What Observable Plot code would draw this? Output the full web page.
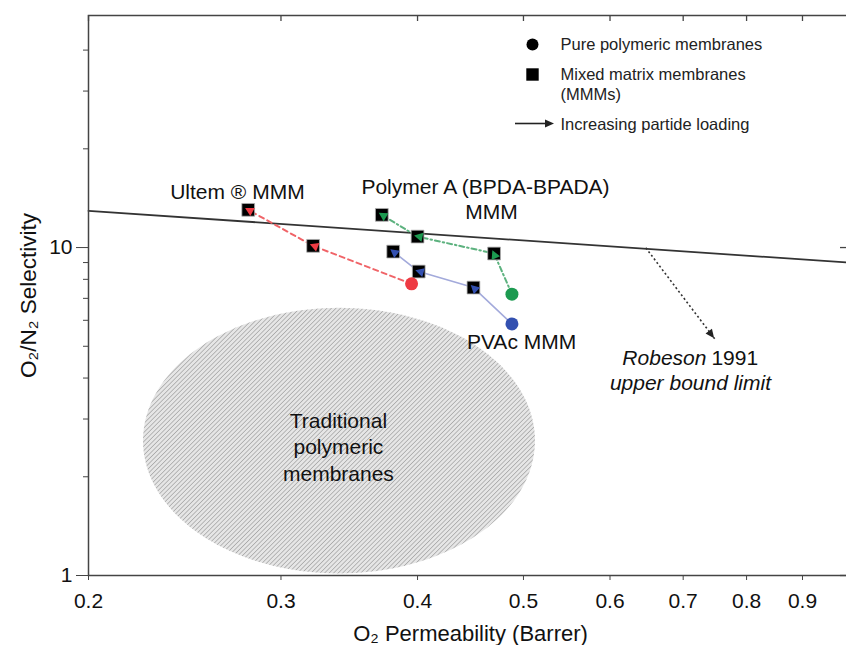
<!DOCTYPE html>
<html><head><meta charset="utf-8">
<script src="https://cdn.jsdelivr.net/npm/d3@7"></script>
<script src="https://cdn.jsdelivr.net/npm/@observablehq/plot@0.6"></script>
<style>
body{margin:0;background:#fff;}
#chart{position:relative;width:846px;height:645px;overflow:hidden;background:#fff;}
</style></head><body><div id="chart"></div>
<script>
// ---------- data ----------
const ultemPerm = [0.395, 0.321, 0.280];
const ultemSel  = [7.75, 10.12, 13.03];
const ultemType = ["pure", "mmm", "mmm"];

const polyAPerm = [0.488, 0.470, 0.400, 0.371];
const polyASel  = [7.21, 9.59, 10.8, 12.58];
const polyAType = ["pure", "mmm", "mmm", "mmm"];

const pvacPerm = [0.488, 0.450, 0.401, 0.380];
const pvacSel  = [5.85, 7.55, 8.45, 9.72];
const pvacType = ["pure", "mmm", "mmm", "mmm"];

const robesonPerm = [0.2, 1.0];
const robesonSel  = [12.94, 8.98];

// dotted pointer from the bound line to its caption
const pointerPerm = [0.647, 0.748];
const pointerSel  = [9.98, 5.27];

// "Traditional polymeric membranes" region: centre and half-extent (decades)
const tradCenterPerm = 0.339, tradCenterSel = 2.578;
const tradHalfPermDec = 0.1793, tradHalfSelDec = 0.405;

const xTicks = [0.2, 0.3, 0.4, 0.5, 0.6, 0.7, 0.8, 0.9, 1];
const xTickLabels = ["0.2", "0.3", "0.4", "0.5", "0.6", "0.7", "0.8", "0.9", "1"];
const yMajorTicks = [1, 10];
const yMajorLabels = ["1", "10"];
const yMinorTicks = [2, 3, 4, 5, 6, 7, 8, 9, 20, 30, 40];

// ---------- tables ----------
const mk = (name, P, S, T) => P.map((p, i) => ({series: name, p, s: S[i], type: T[i], i}));
const ultem = mk("Ultem", ultemPerm, ultemSel, ultemType);
const polyA = mk("PolymerA", polyAPerm, polyASel, polyAType);
const pvac  = mk("PVAc", pvacPerm, pvacSel, pvacType);
const all = [...ultem, ...polyA, ...pvac];
const robeson = robesonPerm.map((p, i) => ({p, s: robesonSel[i]}));
const pointer = [{p1: pointerPerm[0], s1: pointerSel[0], p2: pointerPerm[1], s2: pointerSel[1]}];
const ellipse = d3.range(0, 160).map(k => {
  const t = (k / 160) * 2 * Math.PI;
  return {p: Math.pow(10, Math.log10(tradCenterPerm) + tradHalfPermDec * Math.cos(t)),
          s: Math.pow(10, Math.log10(tradCenterSel) + tradHalfSelDec * Math.sin(t))};
});
const xLab = new Map(xTicks.map((d, i) => [d, xTickLabels[i]]));
const yLab = new Map(yMajorTicks.map((d, i) => [d, yMajorLabels[i]]));

const RED = "#ee3a43", GREEN = "#1c9a50", BLUE = "#3350b0";
const seriesColor = {Ultem: RED, PolymerA: GREEN, PVAc: BLUE};
const FONT = "'Liberation Sans', Arial, Helvetica, sans-serif";
const LEG = {frameAnchor: "top-left", textAnchor: "start", lineAnchor: "middle", fontSize: 16.5, fill: "#222"};

const plot = Plot.plot({
  width: 846, height: 645,
  marginLeft: 88, marginRight: -6, marginTop: 15, marginBottom: 70,
  x: {type: "log", domain: [0.2, 1], label: null},
  y: {type: "log", domain: [1, 51], label: null},
  color: {domain: ["Ultem", "PolymerA", "PVAc"], range: [RED, GREEN, BLUE]},
  style: {fontFamily: FONT, color: "#111", background: "white", overflow: "visible"},
  marks: [
    // traditional region
    Plot.line(ellipse, {x: "p", y: "s", fill: "#b7b7b7", stroke: "none", curve: "linear-closed"}),
    Plot.text([{p: 0.3386, s: 2.489, t: "Traditional\npolymeric\nmembranes"}],
      {x: "p", y: "s", text: "t", fontSize: 21, lineHeight: 1.26, fill: "#111"}),
    // Robeson bound
    Plot.line(robeson, {x: "p", y: "s", stroke: "#333", strokeWidth: 1.8}),
    Plot.link(pointer, {x1: "p1", y1: "s1", x2: "p2", y2: "s2", stroke: "#333", strokeWidth: 1.6, strokeDasharray: "2,2.5"}),
    // series connectors
    Plot.line(ultem, {x: "p", y: "s", stroke: "#f06468", strokeWidth: 2, strokeDasharray: "5,4"}),
    Plot.line(polyA, {x: "p", y: "s", stroke: "#5db27f", strokeWidth: 2, strokeDasharray: "5,3,1.5,3"}),
    Plot.line(pvac, {x: "p", y: "s", stroke: "#a3aadb", strokeWidth: 1.6}),
    // points
    Plot.dot(all.filter(d => d.type === "mmm"), {x: "p", y: "s", symbol: "square", r: 7.2, fill: "#000", stroke: "#b0b0b0", strokeWidth: 0.8}),
    Plot.dot(all.filter(d => d.type === "pure"), {x: "p", y: "s", r: 6.5, fill: "series"}),
    // annotations
    Plot.text([{p: 0.2737, s: 14.78, t: "Ultem ® MMM"}], {x: "p", y: "s", text: "t", fontSize: 21, fill: "#111"}),
    Plot.text([{p: 0.4616, s: 15.30, t: "Polymer A (BPDA-BPADA)"}], {x: "p", y: "s", text: "t", fontSize: 21, fill: "#111"}),
    Plot.text([{p: 0.4675, s: 12.85, t: "MMM"}], {x: "p", y: "s", text: "t", fontSize: 21, fill: "#111"}),
    Plot.text([{p: 0.498, s: 5.126, t: "PVAc MMM"}], {x: "p", y: "s", text: "t", fontSize: 21, fill: "#111"}),
    Plot.text([{p: 0.7390, s: 4.60, t: "Robeson"}], {x: "p", y: "s", text: "t", fontSize: 21, fontStyle: "italic", textAnchor: "end", dx: -2.5, fill: "#111"}),
    Plot.text([{p: 0.7390, s: 4.60, t: "1991"}], {x: "p", y: "s", text: "t", fontSize: 21, textAnchor: "start", dx: 2.5, fill: "#111"}),
    Plot.text([{p: 0.7108, s: 3.86, t: "upper bound limit"}], {x: "p", y: "s", text: "t", fontSize: 21, fontStyle: "italic", fill: "#111"}),
    // legend
    Plot.dot([0], {frameAnchor: "top-left", dx: 444, dy: 29, r: 6, fill: "#000"}),
    Plot.dot([0], {frameAnchor: "top-left", dx: 444, dy: 59, r: 7, symbol: "square", fill: "#000"}),
    Plot.text(["Pure polymeric membranes"], {...LEG, dx: 472, dy: 29}),
    Plot.text(["Mixed matrix membranes"], {...LEG, dx: 472, dy: 59}),
    Plot.text(["(MMMs)"], {...LEG, dx: 472, dy: 79}),
    Plot.text(["Increasing partide loading"], {...LEG, dx: 472, dy: 109}),
    // axes
    Plot.axisX(xTicks, {anchor: "bottom", tickSize: 5, tickPadding: 13, fontSize: 21, tickFormat: d => xLab.get(d), label: null, stroke: "#444"}),
    Plot.ruleX(xTicks, {x: d => d, insetBottom: 554, stroke: "#444", strokeWidth: 1.3}),
    Plot.axisY(yMajorTicks, {anchor: "left", tickSize: 12, tickPadding: 4, fontSize: 21, tickFormat: d => yLab.get(d), label: null, stroke: "#444"}),
    Plot.axisY(yMinorTicks, {anchor: "left", tickSize: 5, tickFormat: () => "", label: null, stroke: "#444"}),
    Plot.ruleY(yMajorTicks, {y: d => d, insetLeft: 752, stroke: "#444", strokeWidth: 1.3}),
    Plot.ruleY(yMinorTicks, {y: d => d, insetLeft: 758, stroke: "#444", strokeWidth: 1.3}),
    Plot.frame({stroke: "#444", strokeWidth: 1.5}),
    Plot.text(["O₂ Permeability (Barrer)"], {frameAnchor: "bottom", textAnchor: "middle", lineAnchor: "middle", dy: 58, fontSize: 22, fill: "#111"}),
    Plot.text(["O₂/N₂ Selectivity"], {frameAnchor: "left", textAnchor: "middle", lineAnchor: "middle", dx: -60, rotate: -90, fontSize: 22.5, fill: "#111"})
  ]
});

document.getElementById("chart").appendChild(plot);

// ---------- hatch pattern for the region ----------
const svg = d3.select(plot.tagName.toLowerCase() === "svg" ? plot : plot.querySelector("svg"));
const defs = svg.insert("defs", ":first-child");
const pat = defs.append("pattern").attr("id", "hatch").attr("patternUnits", "userSpaceOnUse")
  .attr("width", 3.2).attr("height", 3.2).attr("patternTransform", "rotate(45)");
pat.append("rect").attr("width", 3.2).attr("height", 3.2).attr("fill", "#e6e6e6");
pat.append("line").attr("x1", 0).attr("y1", 0).attr("x2", 0).attr("y2", 3.2).attr("stroke", "#a2a2a2").attr("stroke-width", 1.4);
svg.selectAll('[fill="#b7b7b7"]').attr("fill", "url(#hatch)");

// ---------- filled arrowheads, using the plot's own scales ----------
const sx = plot.scale("x"), sy = plot.scale("y");
const heads = svg.append("g");
function head(x1, y1, x2, y2, color, back, len, half) {
  const dx = x2 - x1, dy = y2 - y1, L = Math.hypot(dx, dy), ux = dx / L, uy = dy / L;
  const tx = x2 + ux * back, ty = y2 + uy * back;
  const bx = tx - ux * len, by = ty - uy * len;
  heads.append("path").attr("fill", color)
    .attr("d", `M${tx},${ty}L${bx - uy * half},${by + ux * half}L${bx + uy * half},${by - ux * half}Z`);
}
for (const s of [ultem, polyA, pvac]) {
  for (let i = 1; i < s.length; i++) {
    head(sx.apply(s[i - 1].p), sy.apply(s[i - 1].s), sx.apply(s[i].p), sy.apply(s[i].s),
      seriesColor[s[i].series], 3, 8.5, 4.6);
  }
}
head(sx.apply(pointer[0].p1), sy.apply(pointer[0].s1), sx.apply(pointer[0].p2), sy.apply(pointer[0].s2), "#222", 0, 9, 4);
// legend arrow (pixel layout inside the frame)
heads.append("line").attr("x1", 515).attr("y1", 123.5).attr("x2", 546).attr("y2", 123.5).attr("stroke", "#222").attr("stroke-width", 1.6);
head(515, 123.5, 554, 123.5, "#222", 0, 9, 4);
</script></body></html>
